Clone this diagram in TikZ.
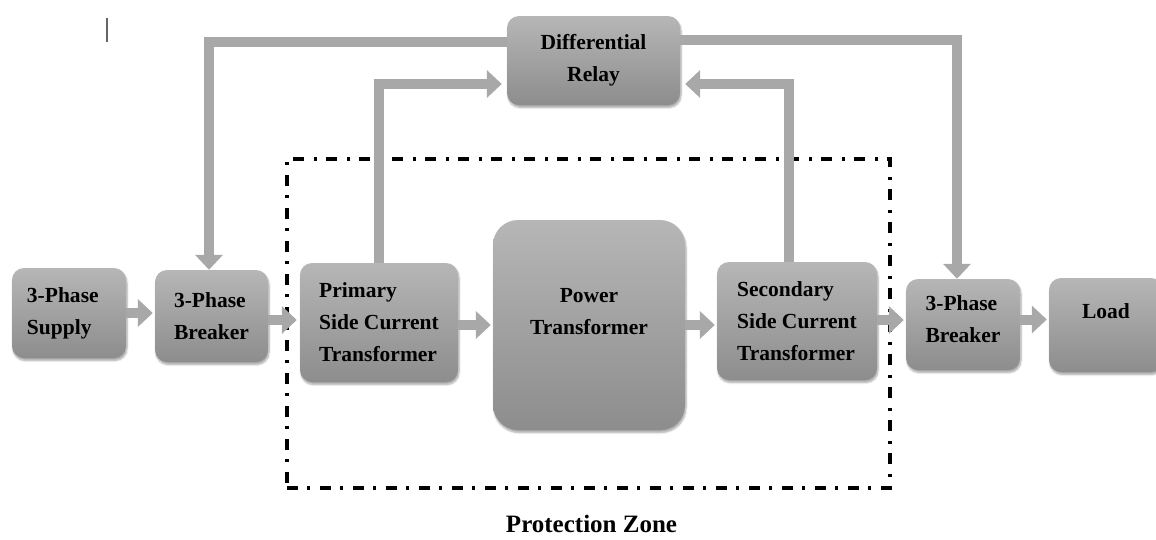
\documentclass[tikz,border=0pt]{standalone}
\usepackage{fontspec}
\setmainfont{Liberation Serif}
\usetikzlibrary{arrows.meta,shadows.blur}

\definecolor{boxtop}{HTML}{B6B6B6}
\definecolor{boxbot}{HTML}{8D8D8D}
\definecolor{wiregray}{HTML}{A8A8A8}

\tikzset{
  blk/.style={rounded corners=12pt, top color=boxtop, bottom color=boxbot,
    draw=none, align=left, inner sep=0pt,
    font=\fontsize{21.5}{32}\selectfont\bfseries,
    blur shadow={shadow xshift=1pt, shadow yshift=-2.5pt,
      shadow blur steps=6, shadow opacity=35}},
  flow/.style={draw=wiregray, line width=10pt,
    -{Triangle[length=15pt,width=27pt]}},
  zonebox/.style={draw=black, line width=3.5pt,
    dash pattern=on 11pt off 9pt on 3pt off 10pt, inner sep=0pt},
}

\begin{document}
\begin{tikzpicture}[x=1pt, y=-1pt]
  \useasboundingbox (0,0) rectangle (1156,539);

  % protection zone frame
  \node[zonebox, minimum width=603pt, minimum height=329pt] (zone) at (588.5,323.5) {};
  \node[font=\fontsize{25}{30}\selectfont\bfseries] (zonelbl) at (591.5,524) {Protection Zone};

  % main chain of blocks
  \node[blk, text width=84pt, minimum width=114pt, minimum height=90pt] (supply) at (69,313) {3-Phase\\Supply};
  \node[blk, minimum width=113pt, minimum height=92pt] (brk1) at (211.5,316) {3-Phase\\Breaker};
  \node[blk, minimum width=158pt, minimum height=119pt] (pct) at (379,322.5) {Primary\\Side Current\\Transformer};
  \node[blk, rounded corners=25pt, align=center, minimum width=192pt, minimum height=210pt,
        text depth=27pt] (ptr) at (589,325) {Power\\Transformer};
  \node[blk, minimum width=160pt, minimum height=118pt] (sct) at (797,321) {Secondary\\Side Current\\Transformer};
  \node[blk, minimum width=114pt, minimum height=91pt, text depth=10pt] (brk2) at (963,324.5) {3-Phase\\Breaker};
  \node[blk, align=center, minimum width=114pt, minimum height=94pt, text depth=28pt] (load) at (1106,325) {Load};

  % relay
  \node[blk, align=center, minimum width=173pt, minimum height=89pt] (relay) at (593.5,60.5) {Differential\\Relay};

  % forward path
  \draw[flow, shorten >=2pt] (supply.east) -- (supply.east -| brk1.west);
  \draw[flow, shorten >=3pt] ([yshift=-4pt]brk1.east) -- ([yshift=-4pt]brk1.east -| pct.west);
  \draw[flow, shorten >=2pt] (pct.east |- ptr.west) -- (ptr.west);
  \draw[flow, shorten >=2pt] (ptr.east) -- (ptr.east -| sct.west);
  \draw[flow, shorten >=2pt] ([yshift=1pt]sct.east) -- ([yshift=1pt]sct.east -| brk2.west);
  \draw[flow, shorten >=2pt] ([yshift=5pt]brk2.east) -- ([yshift=5pt]brk2.east -| load.west);

  % measurements to the relay
  \draw[flow, shorten >=5pt] (pct.north) |- ([yshift=-23.5pt]relay.west);
  \draw[flow, shorten >=5pt] ([xshift=-8pt]sct.north) |- ([yshift=-23.5pt]relay.east);

  % trip signals to the breakers
  \draw[flow] ([yshift=18.5pt]relay.west) -| ([xshift=-2.5pt]brk1.north);
  \draw[flow] ([yshift=20.5pt]relay.east) -| ([xshift=-6pt]brk2.north);

  % small cursor mark
  \coordinate (marktop) at (107,18);
  \coordinate (markbot) at (107,42);
  \draw[gray!80!black, line width=2.5pt] (marktop) -- (markbot);
\end{tikzpicture}
\end{document}
